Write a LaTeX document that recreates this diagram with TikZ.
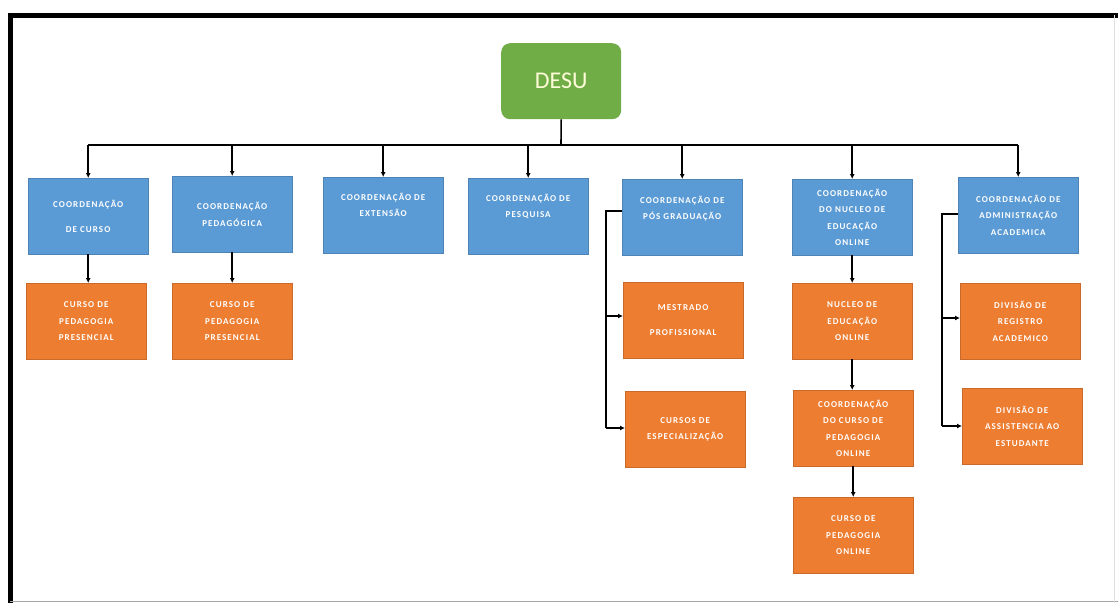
\documentclass[tikz,border=0pt]{standalone}
\usepackage{fontspec}
\setmainfont{Carlito}
\newfontfamily\boxfont[LetterSpace=12,WordSpace=1.6]{Carlito}
\usetikzlibrary{arrows.meta}
\definecolor{bluebox}{HTML}{5B9BD5}
\definecolor{orangebox}{HTML}{ED7D31}
\definecolor{greenbox}{HTML}{70AD47}
\tikzset{
  boxbase/.style={minimum width=119pt, minimum height=76pt, inner sep=2pt, align=center,
    text width=116pt, text=white,
    font=\boxfont\fontsize{9}{16.5}\selectfont\bfseries, anchor=north west},
  bluenode/.style={boxbase, fill=bluebox, draw=bluebox!85!black, line width=0.4pt},
  orangenode/.style={boxbase, fill=orangebox, draw=orangebox!85!black, line width=0.4pt},
  conn/.style={line width=1.6pt, black},
  arr/.style={conn, -{Latex[length=5pt,width=5pt]}},
}
\begin{document}
\begin{tikzpicture}[x=1pt,y=-1pt]
\useasboundingbox (0,0) rectangle (1118,603);
% frame
\draw[line width=5pt] (8,15) -- (1118,15);
\draw[line width=5pt] (10.5,15) -- (10.5,603);
\draw[gray!70, line width=1.2pt] (10,601.5) -- (1118,601.5);
\draw[gray!25, line width=1pt] (1114,15) -- (1114,603);
% root
\node[fill=greenbox, rounded corners=9pt, minimum width=120pt, minimum height=76pt,
  text=white!85!yellow, font=\fontsize{24}{28}\selectfont, anchor=north west] (desu) at (501,43) {DESU};
% blue row
\node[bluenode] (b1) at (28,178) {COORDENAÇÃO\\[9pt]DE CURSO};
\node[bluenode] (b2) at (172,176) {COORDENAÇÃO\\PEDAGÓGICA};
\node[bluenode] (b3) at (323,177) {COORDENAÇÃO DE\\EXTENSÃO\\[4pt]~};
\node[bluenode] (b4) at (468,178) {COORDENAÇÃO DE\\PESQUISA\\[4pt]~};
\node[bluenode] (b5) at (622,179) {COORDENAÇÃO DE\\PÓS GRADUAÇÃO\\[2pt]~};
\node[bluenode] (b6) at (792,179) {COORDENAÇÃO\\DO NUCLEO DE\\EDUCAÇÃO\\ONLINE};
\node[bluenode] (b7) at (958,177) {COORDENAÇÃO DE\\ADMINISTRAÇÃO\\ACADEMICA};
% orange boxes
\node[orangenode] (o1) at (26,283) {CURSO DE\\PEDAGOGIA\\PRESENCIAL};
\node[orangenode] (o2) at (172,283) {CURSO DE\\PEDAGOGIA\\PRESENCIAL};
\node[orangenode] (o3) at (623,282) {MESTRADO\\[9pt]PROFISSIONAL};
\node[orangenode] (o4) at (625,391) {CURSOS DE\\ESPECIALIZAÇÃO};
\node[orangenode] (o5) at (792,283) {NUCLEO DE\\EDUCAÇÃO\\ONLINE};
\node[orangenode] (o6) at (793,390) {COORDENAÇÃO\\DO CURSO DE\\PEDAGOGIA\\ONLINE};
\node[orangenode] (o7) at (793,497) {CURSO DE\\PEDAGOGIA\\ONLINE};
\node[orangenode] (o8) at (960,283) {DIVISÃO DE\\REGISTRO\\ACADEMICO};
\node[orangenode] (o9) at (962,388) {DIVISÃO DE\\ASSISTENCIA AO\\ESTUDANTE};
% top connectors
\coordinate (bus) at (561,145);
\draw[conn] (desu.south) -- (bus);
\draw[conn] (b1.north |- bus) -- (b7.north |- bus);
\foreach \b in {b1,b2,b3,b4,b5,b6,b7}
  \draw[arr] (\b.north |- bus) -- (\b.north);
% vertical children
\draw[arr] (b1.south) -- (o1.north -| b1.south);
\draw[arr] (b2.south) -- (o2.north -| b2.south);
\draw[arr] (b6.south) -- (o5.north -| b6.south);
\draw[arr] (o5.south) -- (o6.north -| o5.south);
\draw[arr] (o6.south) -- (o7.north);
% brackets
\coordinate (p1) at (606,211);
\draw[conn] (b5.west |- p1) -- (p1) -- (606,428);
\draw[arr] (606,316) -- (o3.west |- 606,316);
\draw[arr] (606,428) -- (o4.west |- 606,428);
\coordinate (a1) at (942,214);
\draw[conn] (b7.west |- a1) -- (a1) -- (942,426);
\draw[arr] (942,318) -- (o8.west |- 942,318);
\draw[arr] (942,426) -- (o9.west |- 942,426);
\end{tikzpicture}
\end{document}
